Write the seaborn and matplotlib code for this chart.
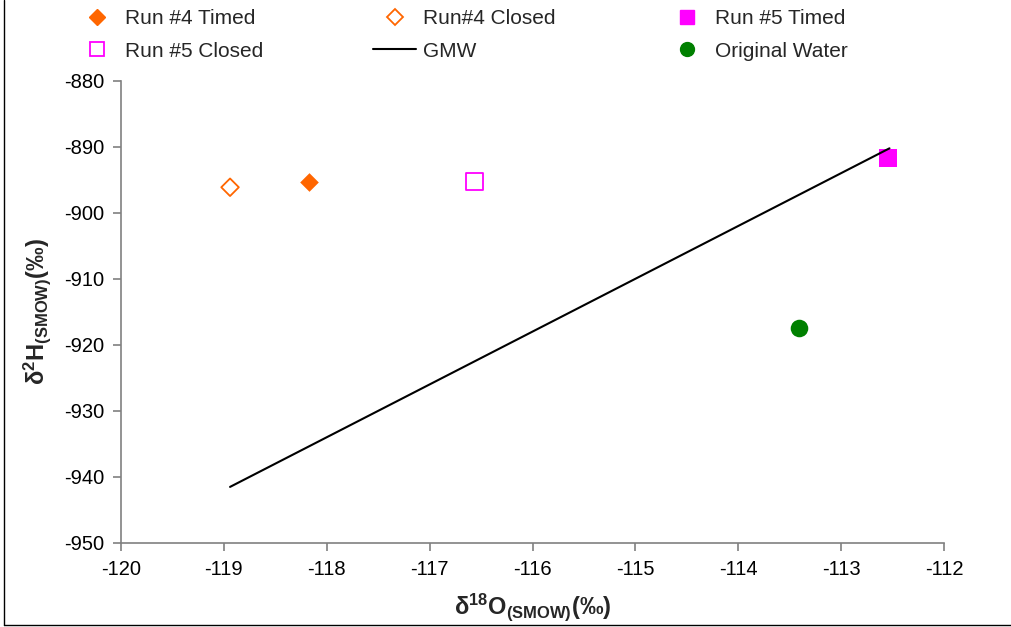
import matplotlib
matplotlib.use("Agg")
import matplotlib.pyplot as plt
import seaborn as sns
import pandas as pd
from matplotlib.lines import Line2D

# ---- data ----
run4_timed_x = [-118.17]
run4_timed_y = [-895.3]
run4_closed_x = [-118.94]
run4_closed_y = [-896.1]
run5_timed_x = [-112.54]
run5_timed_y = [-891.7]
run5_closed_x = [-116.56]
run5_closed_y = [-895.2]
orig_x = [-113.41]
orig_y = [-917.4]
gmw_x = [-118.94, -112.53]
gmw_y = [-941.5, -890.2]
x_ticks = [-120, -119, -118, -117, -116, -115, -114, -113, -112]
y_ticks = [-950, -940, -930, -920, -910, -900, -890, -880]

sns.set_style("ticks")
plt.rcParams['font.family'] = ['Liberation Sans', 'DejaVu Sans']
plt.rcParams['mathtext.fontset'] = 'custom'
plt.rcParams['mathtext.rm'] = 'Liberation Sans'
plt.rcParams['mathtext.bf'] = 'Liberation Sans:bold'
plt.rcParams['mathtext.default'] = 'bf'

W, H = 1012, 627
fig = plt.figure(figsize=(W / 100, H / 100), dpi=100)
ax = fig.add_axes([121 / W, 1 - 543 / H, (944 - 121) / W, (543 - 81) / H])

orange = '#FF6600'
magenta = '#FF00FF'
green = '#008000'

sns.lineplot(x=gmw_x, y=gmw_y, ax=ax, color='black', linewidth=1.5, legend=False)
sns.scatterplot(x=run4_timed_x, y=run4_timed_y, ax=ax, marker='D', s=90,
                color=orange, edgecolor=orange, linewidth=0, legend=False)
sns.scatterplot(x=run4_closed_x, y=run4_closed_y, ax=ax, marker='D', s=80,
                facecolor='none', edgecolor=orange, linewidth=1.3, legend=False)
sns.scatterplot(x=run5_timed_x, y=run5_timed_y, ax=ax, marker='s', s=150,
                color=magenta, edgecolor=magenta, linewidth=0, legend=False)
sns.scatterplot(x=run5_closed_x, y=run5_closed_y, ax=ax, marker='s', s=150,
                facecolor='none', edgecolor=magenta, linewidth=1.3, legend=False)
sns.scatterplot(x=orig_x, y=orig_y, ax=ax, marker='o', s=160,
                color=green, edgecolor=green, linewidth=0, legend=False)

ax.set_xlim(-120, -112)
ax.set_ylim(-950, -880)
ax.set_xticks(x_ticks)
ax.set_yticks(y_ticks)
ax.set_xticklabels([str(t) for t in x_ticks], fontsize=14.5)
ax.set_yticklabels([str(t) for t in y_ticks], fontsize=14.5)
for s in ['top', 'right']:
    ax.spines[s].set_visible(False)
for s in ['left', 'bottom']:
    ax.spines[s].set_color('#808080')
    ax.spines[s].set_linewidth(1.2)
ax.tick_params(direction='out', length=6, width=1.2, color='#808080',
               labelcolor='black', pad=6)

ax.set_xlabel(r'δ$^{18}$O$_{(SMOW)}$(‰)', fontsize=17, fontweight='bold', labelpad=9)
ax.set_ylabel(r'δ$^{2}$H$_{(SMOW)}$(‰)', fontsize=17, fontweight='bold', labelpad=8)

handles = [
    Line2D([], [], marker='D', color=orange, markersize=8, linestyle='none'),
    Line2D([], [], marker='s', color='none', markerfacecolor='none', markeredgecolor=magenta,
           markeredgewidth=1.3, markersize=10, linestyle='none'),
    Line2D([], [], marker='D', color='none', markerfacecolor='none', markeredgecolor=orange,
           markeredgewidth=1.3, markersize=8, linestyle='none'),
    Line2D([], [], color='black', linewidth=1.5),
    Line2D([], [], marker='s', color=magenta, markersize=10, linestyle='none'),
    Line2D([], [], marker='o', color=green, markersize=10, linestyle='none'),
]
labels = ['Run #4 Timed', 'Run #5 Closed', 'Run#4 Closed', 'GMW', 'Run #5 Timed', 'Original Water']
fig.legend(handles, labels, loc='upper left', bbox_to_anchor=(75 / W, 1 - 9 / H),
           ncol=3, frameon=False, fontsize=15, handlelength=2.07, handletextpad=0.31,
           columnspacing=5.3, labelspacing=0.66, borderpad=0, borderaxespad=0)

# figure border lines (left and bottom)
fig.add_artist(Line2D([4 / W, 4 / W], [2 / H, 1], transform=fig.transFigure, color='black', linewidth=1))
fig.add_artist(Line2D([4 / W, 1], [2 / H, 2 / H], transform=fig.transFigure, color='black', linewidth=1))

fig.savefig('out.png', dpi=100)
